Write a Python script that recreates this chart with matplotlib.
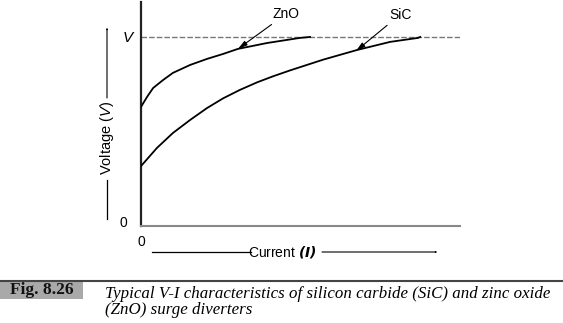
import matplotlib
matplotlib.use('Agg')
import matplotlib.pyplot as plt
from matplotlib.patches import Rectangle, FancyArrowPatch

plt.rcParams['font.family'] = ['Liberation Sans', 'DejaVu Sans']
plt.rcParams['mathtext.fontset'] = 'custom'
plt.rcParams['mathtext.it'] = 'Liberation Sans:italic'
plt.rcParams['mathtext.rm'] = 'Liberation Sans'

# V-I curves (current and voltage in relative units, V = 1)
zno_current = [0.0, 0.019, 0.038, 0.069, 0.100, 0.154, 0.207, 0.257, 0.304, 0.395, 0.498, 0.530]
zno_voltage = [0.630, 0.683, 0.730, 0.772, 0.810, 0.852, 0.884, 0.910, 0.937, 0.968, 0.995, 1.0]

sic_current = [0.0, 0.050, 0.100, 0.154, 0.207, 0.257, 0.310, 0.364, 0.414, 0.467,
               0.571, 0.677, 0.781, 0.868, 0.875]
sic_voltage = [0.317, 0.413, 0.492, 0.561, 0.624, 0.675, 0.720, 0.760, 0.792, 0.823,
               0.880, 0.931, 0.974, 0.995, 1.0]

v_level = 1.0
caption_tag = 'Fig. 8.26'
caption_lines = ['Typical V-I characteristics of silicon carbide (SiC) and zinc oxide',
                 '(ZnO) surge diverters']

W, H = 563, 323


def fx(x):
    return x / W


def fy(y):
    return 1 - y / H


fig = plt.figure(figsize=(W / 100, H / 100), dpi=100)
fig.patch.set_facecolor('white')

ax = fig.add_axes([fx(141), fy(226), (460 - 141) / W, (226 - 2) / H])
ax.set_xlim(0, 1)
ax.set_ylim(0, 1.185)
ax.set_xticks([])
ax.set_yticks([])
for s in ['top', 'right']:
    ax.spines[s].set_visible(False)
ax.spines['left'].set_color('#222222')
ax.spines['left'].set_linewidth(1.6)
ax.spines['bottom'].set_color('#888888')
ax.spines['bottom'].set_linewidth(1.5)
ax.patch.set_alpha(0)

ax.axhline(v_level, color='#777777', lw=1.0, ls=(0, (4, 1.5)), zorder=1)
ax.plot(zno_current, zno_voltage, color='black', lw=1.3, zorder=3, solid_joinstyle='round')
ax.plot(sic_current, sic_voltage, color='black', lw=1.3, zorder=3, solid_joinstyle='round')

arrow_kw = dict(arrowstyle='-|>,head_length=0.55,head_width=0.15', color='black', lw=0.8,
                shrinkA=1, shrinkB=0)
ax.annotate('ZnO', xy=(zno_current[8], zno_voltage[8]), xytext=(0.455, 1.122),
            ha='center', va='center', fontsize=10, arrowprops=arrow_kw, annotation_clip=False)
ax.annotate('SiC', xy=(0.674, 0.926), xytext=(0.812, 1.118),
            ha='center', va='center', fontsize=10, arrowprops=arrow_kw, annotation_clip=False)

# axis labels drawn as in the figure
fig.text(fx(129), fy(38), '$V$', fontsize=11, ha='center', va='center')
fig.text(fx(123), fy(223), '0', fontsize=10, ha='center', va='center')
fig.text(fx(141), fy(242), '0', fontsize=10, ha='center', va='center')
fig.text(fx(107), fy(138), 'Voltage $(V)$', fontsize=10.5, rotation=90, ha='center', va='center')
fig.text(fx(282), fy(252), 'Current $\\mathbfit{(I)}$', fontsize=10, ha='center', va='center')

line_kw = dict(arrowstyle='-|>,head_length=0.5,head_width=0.15', color='black', lw=0.8,
               shrinkA=0, shrinkB=0)
fig.add_artist(FancyArrowPatch((fx(107), fy(98)), (fx(107), fy(27)),
                               transform=fig.transFigure, **line_kw))
fig.add_artist(plt.Line2D([fx(107), fx(107)], [fy(180), fy(219)], color='black', lw=0.9))
fig.add_artist(plt.Line2D([fx(152), fx(251)], [fy(252), fy(252)], color='black', lw=0.9))
fig.add_artist(FancyArrowPatch((fx(322), fy(252)), (fx(438), fy(252)),
                               transform=fig.transFigure, **line_kw))

# caption block
fig.add_artist(plt.Line2D([0, 1], [fy(281), fy(281)], color='#444444', lw=1.5))
fig.add_artist(Rectangle((fx(0), fy(299)), fx(83), (299 - 282) / H, transform=fig.transFigure,
                         facecolor='#a9a9a9', edgecolor='none'))
fig.text(fx(42), fy(290), caption_tag, family='Liberation Serif', fontweight='bold',
         fontsize=12.5, ha='center', va='center', color='#111111')
fig.text(fx(105), fy(294), caption_lines[0], family='Liberation Serif', style='italic',
         fontsize=12.2, ha='left', va='center')
fig.text(fx(105), fy(310), caption_lines[1], family='Liberation Serif', style='italic',
         fontsize=12.2, ha='left', va='center')

fig.savefig('out.png', dpi=100)
